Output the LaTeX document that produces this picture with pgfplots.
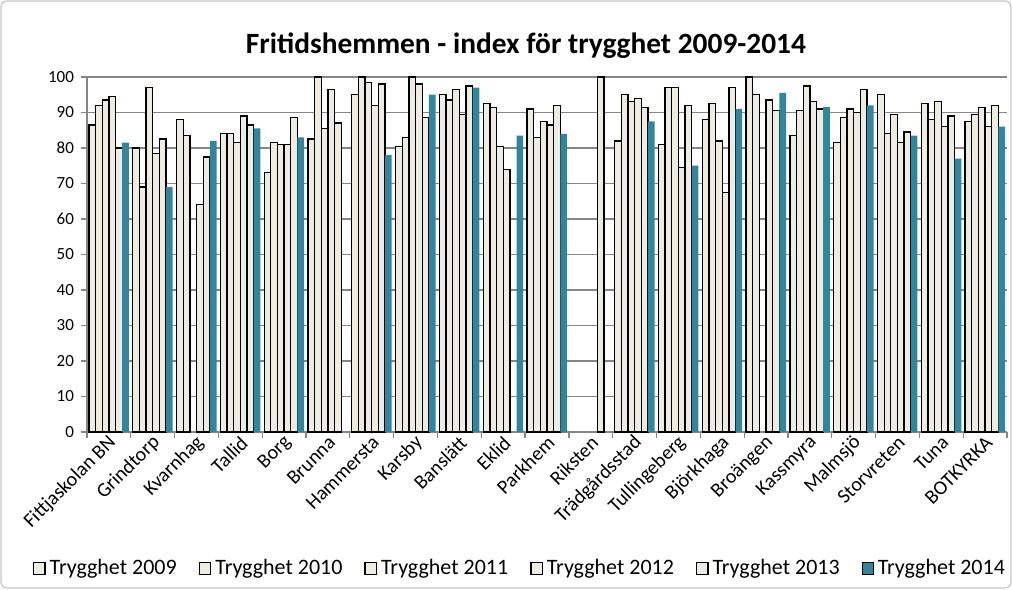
\documentclass[border=0pt]{standalone}
\usepackage{fontspec}
\setmainfont{Carlito}
\usepackage{pgfplots}
\usepackage{pgfplotstable}
\pgfplotsset{compat=1.18}

\definecolor{cream}{RGB}{238,236,225}
\definecolor{teal14}{RGB}{49,133,156}
\definecolor{gridgray}{RGB}{134,134,134}

% index values per fritidshem, one column per year (nan = no value)
\pgfplotstableread{
idx y2009 y2010 y2011 y2012 y2013 y2014
0  86.5 92   93.5 94.5 80   81.5
1  80   69   97   78.5 82.5 69
2  88   83.5 nan  64   77.5 82
3  84   84   81.5 89   86.5 85.5
4  73   81.5 81   81   88.5 83
5  82.5 100  85.5 96.5 87   nan
6  95   100  98.5 92   98   78
7  80.5 83   100  98   88.5 95
8  95   93.5 96.5 89.5 97.5 97
9  92.5 91.5 80.5 74   nan  83.5
10 91   83   87.5 86.5 92   84
11 nan  nan  nan  nan  100  nan
12 82   95   93   94   91.5 87.5
13 81   97   97   74.5 92   75
14 88   92.5 82   67.5 97   91
15 100  95   nan  93.5 90.5 95.5
16 83.5 90.5 97.5 93   91   91.5
17 81.5 88.5 91   90   96.5 92
18 95   84   89.5 81.5 84.5 83.5
19 92.5 88   93   86   89   77
20 87.5 89.5 91.5 86   92   86
}\trygg

\begin{document}
\begin{tikzpicture}
\useasboundingbox (-43.5pt,-78.5pt) rectangle (462.5pt,216pt);
\begin{axis}[
  at={(0,0)}, anchor=south west,
  scale only axis,
  width=460pt, height=177.5pt,
  ybar=0pt, bar width=0.152,
  xmin=-0.5, xmax=20.5,
  ymin=0, ymax=100,
  ytick={0,10,...,100},
  xtick={0,...,20},
  xticklabels={Fittjaskolan BN,Grindtorp,Kvarnhag,Tallid,Borg,Brunna,Hammersta,Karsby,Banslätt,Eklid,Parkhem,Riksten,Trädgårdsstad,Tullingeberg,Björkhaga,Broängen,Kassmyra,Malmsjö,Storvreten,Tuna,BOTKYRKA},
  minor xtick={-0.5,0.5,...,20.5},
  major x tick style={draw=none},
  minor x tick style={gridgray, line width=0.6pt},
  y tick style={gridgray, line width=0.6pt},
  tick align=outside,
  major tick length=3pt, minor tick length=3pt,
  axis x line*=bottom, axis y line*=left,
  axis line style={-, gridgray, line width=0.7pt},
  ymajorgrids=true,
  grid style={gridgray, line width=0.7pt},
  /pgf/number format/assume math mode=true,
  y tick label style={font=\fontsize{8.5}{10}\selectfont},
  x tick label style={rotate=45, anchor=east, inner sep=1pt, xshift=2pt, yshift=-2pt,
                      font=\fontsize{10}{12}\selectfont},
  legend style={at={(0.4717,-0.385)}, anchor=center, draw=none, fill=none,
                font=\fontsize{11}{13}\selectfont, legend columns=6,
                /tikz/every even column/.append style={column sep=9pt}},
  legend image code/.code={\draw[#1] (0cm,-0.1cm) rectangle (0.2cm,0.11cm);},
]
  \addplot[fill=cream, draw=black, line width=0.65pt] table[x=idx, y=y2009] {\trygg};
  \addlegendentry{Trygghet 2009}
  \addplot[fill=cream, draw=black, line width=0.65pt] table[x=idx, y=y2010] {\trygg};
  \addlegendentry{Trygghet 2010}
  \addplot[fill=cream, draw=black, line width=0.65pt] table[x=idx, y=y2011] {\trygg};
  \addlegendentry{Trygghet 2011}
  \addplot[fill=cream, draw=black, line width=0.65pt] table[x=idx, y=y2012] {\trygg};
  \addlegendentry{Trygghet 2012}
  \addplot[fill=cream, draw=black, line width=0.65pt] table[x=idx, y=y2013] {\trygg};
  \addlegendentry{Trygghet 2013}
  \addplot[fill=teal14, draw=none] table[x=idx, y=y2014] {\trygg};
  \addlegendentry{Trygghet 2014}
\end{axis}
\node[font=\bfseries\fontsize{14.7}{17}\selectfont] at (219.5pt,193pt)
  {Fritidshemmen - index för trygghet 2009-2014};
\draw[gray!45, line width=0.6pt, rounded corners=3pt] (-43pt,-78pt) rectangle (462pt,215.5pt);
\end{tikzpicture}
\end{document}
